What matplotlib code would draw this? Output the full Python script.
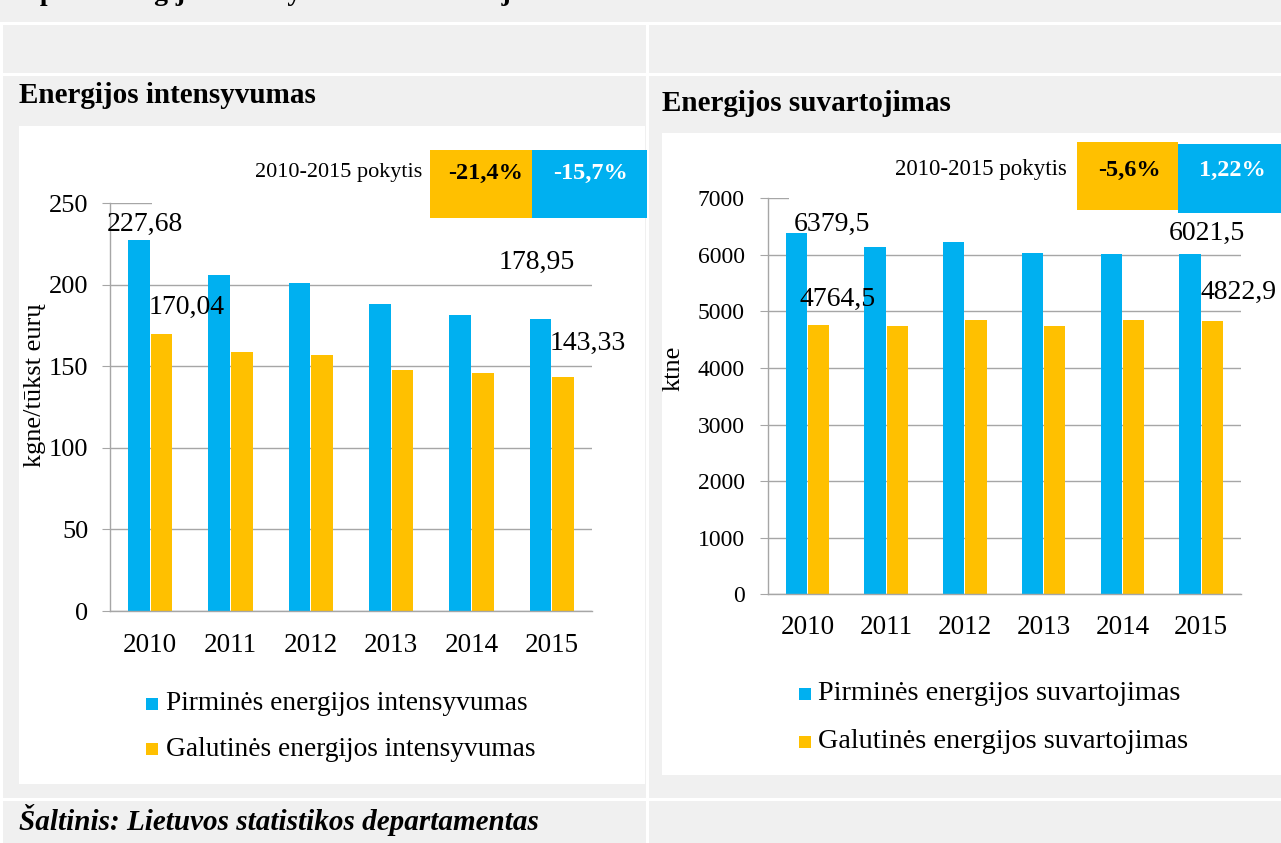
"""
Energijos intensyvumas ir suvartojimas, 2010-2015 (two bar panels in a gray table layout).
"""

import matplotlib
matplotlib.use("Agg")
import matplotlib.pyplot as plt
import numpy as np
from matplotlib.patches import Rectangle

plt.rcParams["font.family"] = ["Liberation Serif", "DejaVu Serif"]

# ---- data -------------------------------------------------------------
YEARS = ["2010", "2011", "2012", "2013", "2014", "2015"]

INTENSITY_PRIMARY = [227.68, 206.3, 201.0, 188.1, 181.2, 178.95]
INTENSITY_FINAL = [170.04, 158.9, 156.7, 147.5, 146.0, 143.33]

CONSUMPTION_PRIMARY = [6379.5, 6140, 6225, 6035, 6010, 6021.5]
CONSUMPTION_FINAL = [4764.5, 4745, 4850, 4745, 4850, 4822.9]

INTENSITY_SERIES = ["Pirminės energijos intensyvumas", "Galutinės energijos intensyvumas"]
CONSUMPTION_SERIES = ["Pirminės energijos suvartojimas", "Galutinės energijos suvartojimas"]

INTENSITY_CHANGE = ["-21,4%", "-15,7%"]
CONSUMPTION_CHANGE = ["-5,6%", "1,22%"]

# ---- style ------------------------------------------------------------
W, H = 1281, 843
BG = "#f0f0f0"
BLUE = "#00b0f0"
ORANGE = "#ffc000"
GRID = "#a6a6a6"

fig = plt.figure(figsize=(W / 100, H / 100), dpi=100, facecolor=BG)


def fx(px):
    return px / W


def fy(py):
    return 1 - py / H


def rect(x0, y0, x1, y1, color, z):
    fig.patches.append(Rectangle((fx(x0), fy(y1)), (x1 - x0) / W, (y1 - y0) / H,
                                 transform=fig.transFigure, facecolor=color,
                                 edgecolor="none", zorder=z))


def text(x, y, s, **kw):
    return fig.text(fx(x), fy(y), s, **kw)


def add_axes(x0, y0, x1, y1):
    return fig.add_axes([fx(x0), fy(y1), (x1 - x0) / W, (y1 - y0) / H])


# table cell borders
for y0, y1 in [(22, 25), (73, 76), (798, 801)]:
    rect(0, y0, W, y1, "white", -2)
rect(646, 22, 649, H, "white", -2)
rect(0, 22, 3, H, "white", -2)

# white chart panels
rect(19, 126, 645, 784, "white", -1)
rect(662, 133, W, 775, "white", -1)

# texts in the table (the caption row is cut off by the top edge in the source)
text(19, 0, "1 pav. Energijos intensyvumas ir suvartojimas", fontsize=20,
     fontweight="bold", va="baseline")
text(19, 103, "Energijos intensyvumas", fontsize=21, fontweight="bold", va="baseline")
text(662, 111, "Energijos suvartojimas", fontsize=21, fontweight="bold", va="baseline")
text(19, 820, "Šaltinis: Lietuvos statistikos departamentas", fontsize=21,
     fontweight="bold", fontstyle="italic", va="center")


def fmt(v, dec):
    return f"{v:.{dec}f}".replace(".", ",")


def draw_panel(ax, primary, final, ymax, ystep, ytick_size, ytick_pad, xtick_pad,
               dec, label_offsets):
    x = np.arange(len(YEARS))
    ax.set_facecolor("white")
    ax.bar(x - 0.14, primary, 0.27, color=BLUE, zorder=2)
    ax.bar(x + 0.14, final, 0.27, color=ORANGE, zorder=2)
    ax.set_xlim(-0.5, len(YEARS) - 0.5)
    ax.set_ylim(0, ymax)
    ax.set_yticks(np.arange(0, ymax + 1, ystep))
    ax.set_xticks(x)
    ax.set_xticklabels(YEARS)
    ax.yaxis.grid(True, color=GRID, lw=1)
    ax.set_axisbelow(True)
    for side in ["top", "right"]:
        ax.spines[side].set_visible(False)
    for side in ["left", "bottom"]:
        ax.spines[side].set_color(GRID)
        ax.spines[side].set_linewidth(1)
    ax.tick_params(axis="y", length=5.8, color=GRID, pad=ytick_pad, labelsize=ytick_size)
    ax.tick_params(axis="x", length=0, pad=xtick_pad, labelsize=19.5)

    series = [primary, final]
    for (s, i), (dx, dy) in label_offsets.items():
        v = series[s][i]
        ax.text(i + dx, v + dy, fmt(v, dec), fontsize=20, ha="left", va="center",
                zorder=3, clip_on=False)


# ---- left panel: intensity -----------------------------------------------
ax1 = add_axes(110, 203.3, 592, 611)
draw_panel(ax1, INTENSITY_PRIMARY, INTENSITY_FINAL, 250, 50, 19, 9.9, 15.8, 2,
           {(0, 0): (-0.537, 9.6), (1, 0): (-0.019, 16.2),
            (0, 5): (-0.662, 35.0), (1, 5): (-0.031, 20.5)})
text(35, 385, "kgne/tūkst eurų", fontsize=19, rotation=90, ha="center", va="center")

# ---- right panel: consumption --------------------------------------------
ax2 = add_axes(768, 198.3, 1240.5, 594.3)
draw_panel(ax2, CONSUMPTION_PRIMARY, CONSUMPTION_FINAL, 7000, 1000, 17, 10.8, 14.9, 1,
           {(0, 0): (-0.171, 151), (1, 0): (-0.101, 443),
            (0, 5): (-0.409, 350), (1, 5): (-0.007, 509)})
text(674, 368, "ktne", fontsize=19, rotation=90, ha="center", va="center")

# ---- change badges (pasted picture with white background) ----------------
rect(152, 140, 645, 210, "white", 2)
text(422, 173, "2010-2015 pokytis", fontsize=16, ha="right", va="center", zorder=4)
rect(430, 150, 532, 218, ORANGE, 3)
rect(532, 150, 647, 218, BLUE, 3)
text(486, 173, INTENSITY_CHANGE[0], fontsize=17.5, fontweight="bold", color="black",
     ha="center", va="center", zorder=4)
text(590, 173, INTENSITY_CHANGE[1], fontsize=17.5, fontweight="bold", color="white",
     ha="center", va="center", zorder=4)

rect(789, 136, W, 210, "white", 2)
text(1067, 170, "2010-2015 pokytis", fontsize=16.5, ha="right", va="center", zorder=4)
rect(1077, 142, 1178, 210, ORANGE, 3)
rect(1178, 144, W, 213, BLUE, 3)
text(1129, 170, CONSUMPTION_CHANGE[0], fontsize=17.5, fontweight="bold", color="black",
     ha="center", va="center", zorder=4)
text(1232, 170, CONSUMPTION_CHANGE[1], fontsize=17.5, fontweight="bold", color="white",
     ha="center", va="center", zorder=4)

# ---- legends ---------------------------------------------------------------
for k, (name, color) in enumerate(zip(INTENSITY_SERIES, [BLUE, ORANGE])):
    yc = 704 + 45 * k
    rect(146, yc - 6, 158, yc + 6, color, 3)
    text(166, yc, name, fontsize=19.7, va="center", zorder=4)

for k, (name, color) in enumerate(zip(CONSUMPTION_SERIES, [BLUE, ORANGE])):
    yc = 694 + 48 * k
    rect(799, yc - 6, 811, yc + 6, color, 3)
    text(818, yc, name, fontsize=20.3, va="center", zorder=4)

fig.savefig("out.png", dpi=100, facecolor=BG)
plt.close(fig)
